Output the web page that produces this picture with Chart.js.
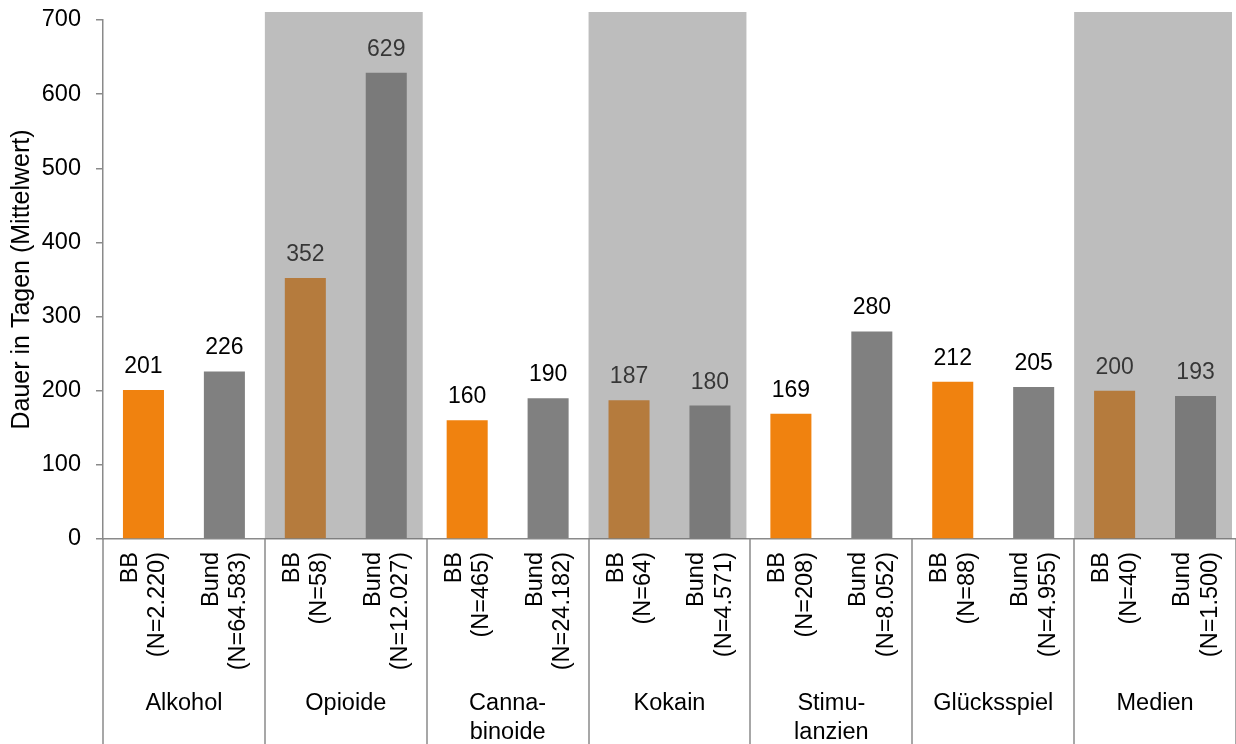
<!DOCTYPE html>
<html>
<head>
<meta charset="utf-8">
<script src="https://cdn.jsdelivr.net/npm/chart.js@4"></script>
<style>
  html, body { margin: 0; padding: 0; background: #ffffff; }
  #wrap { width: 1236px; height: 744px; position: relative; }
</style>
</head>
<body>
<div id="wrap"><canvas id="dauerChart"></canvas></div>
<script>
// Mean duration in days per main problem, Brandenburg vs. federal level
const groups = ['Alkohol', 'Opioide', ['Canna-', 'binoide'], 'Kokain', ['Stimu-', 'lanzien'], 'Glücksspiel', 'Medien'];
const shadedGroups = [1, 3, 6];
const bbN = ['2.220', '58', '465', '64', '208', '88', '40'];
const bundN = ['64.583', '12.027', '24.182', '4.571', '8.052', '4.955', '1.500'];
const bbValues = [201, 352, 160, 187, 169, 212, 200];
const bundValues = [226, 629, 190, 180, 280, 205, 193];
const yTicks = [0, 100, 200, 300, 400, 500, 600, 700];

const ORANGE = '#f0820f';
const GRAY = '#808080';
const AXIS = '#8a8a8a';
const FONT = '"Liberation Sans", Arial, sans-serif';

// two bars per group: BB first, Bund second
const categories = [];
const bbData = [];
const bundData = [];
groups.forEach((g, i) => {
    categories.push(['BB', '(N=' + bbN[i] + ')']);
    categories.push(['Bund', '(N=' + bundN[i] + ')']);
    bbData.push(bbValues[i], null);
    bundData.push(null, bundValues[i]);
});

Chart.defaults.font.family = FONT;
Chart.defaults.font.size = 23.5;
Chart.defaults.color = '#000000';

const groupDecor = {
    id: 'groupDecor',
    afterDatasetsDraw(chart) {
        const ctx = chart.ctx;
        const x = chart.scales.x;
        const area = chart.chartArea;

        // value labels above bars
        ctx.save();
        ctx.font = '23px ' + FONT;
        ctx.fillStyle = '#000000';
        ctx.textAlign = 'center';
        ctx.textBaseline = 'alphabetic';
        chart.data.datasets.forEach((ds, di) => {
            chart.getDatasetMeta(di).data.forEach((el, i) => {
                if (ds.data[i] == null) return;
                ctx.fillText(String(ds.data[i]), el.x, el.y - 17);
            });
        });
        ctx.restore();

        // translucent shade over selected groups (covers bars and labels)
        const groupW = (x.right - x.left) / groups.length;
        ctx.save();
        ctx.fillStyle = 'rgba(114,114,114,0.47)';
        shadedGroups.forEach(g => {
            const left = x.left + g * groupW;
            ctx.fillRect(left, area.top - 8, groupW - 4, area.bottom - area.top + 8);
        });
        ctx.restore();
    },
    afterDraw(chart) {
        // separators between groups, down through both label rows
        const ctx = chart.ctx;
        const x = chart.scales.x;
        const area = chart.chartArea;
        const groupW = (x.right - x.left) / groups.length;
        ctx.save();
        ctx.strokeStyle = AXIS;
        ctx.lineWidth = 1.5;
        for (let g = 0; g <= groups.length; g++) {
            const px = Math.round(x.left + g * groupW);
            ctx.beginPath();
            ctx.moveTo(px, area.bottom);
            ctx.lineTo(px, chart.height);
            ctx.stroke();
        }
        ctx.restore();
    }
};

new Chart(document.getElementById('dauerChart'), {
    type: 'bar',
    data: {
        labels: categories,
        datasets: [
            { label: 'BB', data: bbData, backgroundColor: ORANGE },
            { label: 'Bund', data: bundData, backgroundColor: GRAY }
        ]
    },
    options: {
        responsive: true,
        maintainAspectRatio: false,
        animation: false,
        layout: { padding: { top: 20, left: 0, right: 0, bottom: 0 } },
        datasets: {
            bar: { grouped: false, categoryPercentage: 1, barPercentage: 0.507 }
        },
        plugins: {
            legend: { display: false },
            tooltip: { enabled: false }
        },
        scales: {
            x: {
                type: 'category',
                offset: true,
                weight: 0,
                grid: { display: false, drawTicks: false },
                border: { display: true, color: AXIS, width: 1.5 },
                ticks: {
                    autoSkip: false,
                    minRotation: 90,
                    maxRotation: 90,
                    padding: 13,
                    labelOffset: -13,
                    font: { size: 23.5, lineHeight: 1.17 }
                },
                afterFit(scale) {
                    scale.height = 146;
                    scale.paddingLeft = 0;
                    scale.paddingRight = 0;
                }
            },
            xGroup: {
                type: 'category',
                position: 'bottom',
                labels: groups,
                offset: true,
                weight: 1,
                grid: { display: false, drawTicks: false },
                border: { display: false },
                ticks: {
                    autoSkip: false,
                    maxRotation: 0,
                    minRotation: 0,
                    padding: 4.5,
                    font: { size: 23.5, lineHeight: 1.23 }
                },
                afterFit(scale) {
                    scale.height = 59;
                    scale.paddingLeft = 0;
                    scale.paddingRight = 0;
                }
            },
            y: {
                min: 0,
                max: 700,
                afterBuildTicks(scale) {
                    scale.ticks = yTicks.map(v => ({ value: v }));
                },
                afterFit(scale) {
                    scale.width = 103;
                    scale.paddingTop = 0;
                    scale.paddingBottom = 0;
                },
                grid: { drawOnChartArea: false, drawTicks: true, tickLength: 7, color: AXIS, lineWidth: 1.5 },
                border: { display: true, color: AXIS, width: 1.5 },
                ticks: { padding: 15, font: { size: 23.5 } },
                title: {
                    display: true,
                    text: 'Dauer in Tagen (Mittelwert)',
                    font: { size: 25 },
                    padding: { top: 7, bottom: 0 }
                }
            }
        }
    },
    plugins: [groupDecor]
});
</script>
</body>
</html>
